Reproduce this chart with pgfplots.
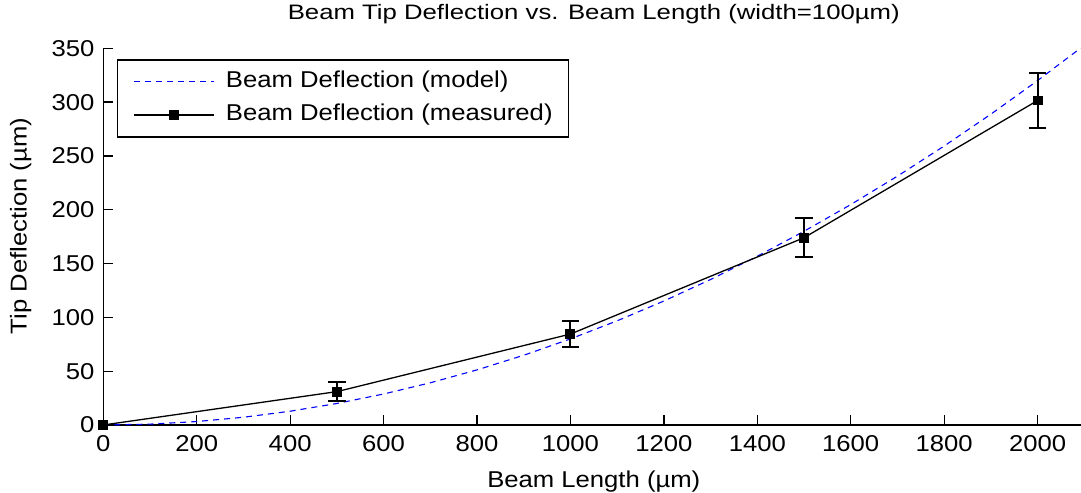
\documentclass[border=0pt]{standalone}
\usepackage{pgfplots}
\pgfplotsset{compat=1.18}
\usepackage{fontspec}
\setmainfont[FakeStretch=1.12]{Liberation Sans}
\newfontfamily\titlefont[FakeStretch=1.23]{Liberation Sans}

\pgfplotstableread{
x y
0 0
100 0.8
200 3.2
300 7.2
400 12.8
500 20
600 28.8
700 39.2
800 51.2
900 64.8
1000 80
1100 96.8
1200 115.2
1300 135.2
1400 156.8
1500 180
1600 204.8
1700 231.2
1800 259.2
1900 288.8
2000 320
2100 352.8
}\modeltable

\pgfplotstableread{
x y
0 0
500 31
1000 84.5
1500 174
2000 301.5
}\meastable

\pgfplotstableread{
x y e
500 31 8.5
1000 84.5 12
1500 174 18
2000 301.5 26
}\errtable

\begin{document}
\begin{tikzpicture}
\begin{axis}[
  at={(0,0)}, anchor=south west,
  scale only axis, width=981bp, height=376.7bp,
  xmin=0, xmax=2100, ymin=0, ymax=350,
  axis x line*=bottom, axis y line*=left,
  axis line style={line width=1.3bp, black},
  tick align=inside, major tick length=9.5bp,
  tick style={line width=1.3bp, black},
  xtick={0,200,...,2000}, ytick={0,50,...,350},
  /pgf/number format/assume math mode=true,
  /pgf/number format/1000 sep={},
  ticklabel style={font=\fontsize{23}{27}\selectfont},
  xticklabel style={inner sep=0pt, anchor=north, yshift=-10bp},
  yticklabel style={inner sep=0pt, anchor=east, xshift=-8.6bp},
  title={Beam Tip Deflection vs. Beam Length (width=100µm)},
  title style={at={(axis description cs:0.5,1)}, anchor=base, yshift=22.6bp, inner sep=0pt, font=\titlefont\fontsize{21}{25}\selectfont},
  xlabel={Beam Length (µm)},
  xlabel style={at={(axis description cs:0.5,0)}, anchor=base, yshift=-62bp, inner sep=0pt, font=\fontsize{23}{27}\selectfont},
  ylabel={Tip Deflection (µm)},
  ylabel style={at={(axis description cs:-0.0781,0.528)}, anchor=base, inner sep=0pt, font=\fontsize{23}{27}\selectfont},
  legend cell align=left,
  legend style={at={(axis description cs:0.014,0.971)}, anchor=north west,
    draw=black, line width=1.3bp, fill=white,
    inner xsep=16bp, inner ysep=11bp, row sep=11bp, column sep=11bp,
    font=\fontsize{23}{27}\selectfont,
    nodes={inner sep=0pt, text height=17bp, text depth=5bp}},
  legend image code/.code={\draw[mark repeat=2,mark phase=2,#1] plot coordinates {(0bp,0bp) (40bp,0bp) (80bp,0bp)};},
]
\addplot[blue, line width=1.1bp, dash pattern=on 6bp off 5bp] table[x=x,y=y] {\modeltable};
\addlegendentry{Beam Deflection (model)}
\addplot[forget plot, draw=none, mark=none,
  error bars/.cd, y dir=both, y explicit,
  error bar style={draw=black, line width=2bp, solid},
  error mark options={rotate=90, mark size=8.8bp, line width=2bp, draw=black}]
  table[x=x,y=y,y error=e] {\errtable};
\addplot[black, line width=1.3bp, mark=square*, mark size=4.3bp, mark options={solid, fill=black}] table[x=x,y=y] {\meastable};
\addlegendentry{Beam Deflection (measured)}
\end{axis}
\pgfresetboundingbox
\path[use as bounding box] (-103.3bp,-68bp) rectangle (977.7bp,425bp);
\end{tikzpicture}
\end{document}
